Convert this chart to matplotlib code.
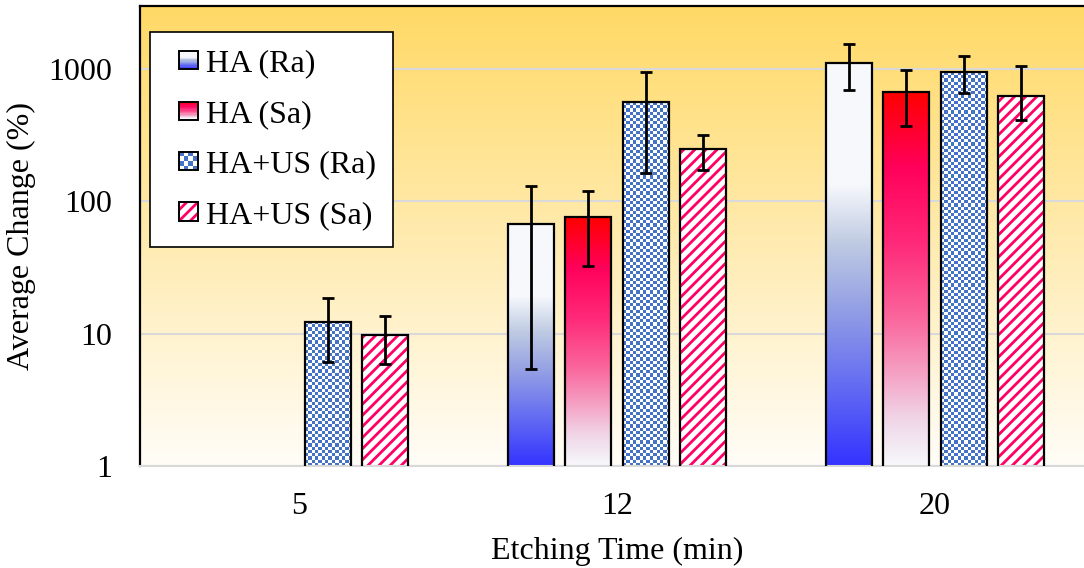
import numpy as np
import matplotlib
import matplotlib.pyplot as plt
from matplotlib.colors import LinearSegmentedColormap, ListedColormap
from matplotlib.patches import Rectangle, Patch
from matplotlib.legend_handler import HandlerBase

plt.rcParams['font.family'] = ['Liberation Serif', 'DejaVu Serif']
plt.rcParams['hatch.linewidth'] = 2.0

# data
times = ['5', '12', '20']
series = ['HA (Ra)', 'HA (Sa)', 'HA+US (Ra)', 'HA+US (Sa)']
ha_ra = [np.nan, 68, 1110]
ha_ra_lo = [np.nan, 5.4, 697]
ha_ra_hi = [np.nan, 130, 1540]
ha_sa = [np.nan, 76, 673]
ha_sa_lo = [np.nan, 32.3, 370]
ha_sa_hi = [np.nan, 120, 978]
us_ra = [12.3, 560, 949]
us_ra_lo = [6.06, 165, 658]
us_ra_hi = [18.5, 955, 1248]
us_sa = [9.8, 248, 624]
us_sa_lo = [5.9, 173, 411]
us_sa_hi = [13.7, 318, 1059]

blue_grad = LinearSegmentedColormap.from_list('bg', [
    (0.0, (246/255, 248/255, 252/255)), (0.3, (246/255, 248/255, 252/255)),
    (0.45, (190/255, 202/255, 226/255)), (0.6, (150/255, 162/255, 228/255)),
    (0.8, (100/255, 108/255, 242/255)), (1.0, (51/255, 51/255, 1.0))])
red_grad = LinearSegmentedColormap.from_list('rg', [
    (0.0, (1.0, 0.0, 0.0)), (0.2, (1.0, 0.0, 90/255)), (0.4, (1.0, 40/255, 120/255)),
    (0.6, (250/255, 100/255, 155/255)), (0.75, (245/255, 160/255, 195/255)),
    (0.88, (240/255, 215/255, 232/255)), (1.0, (246/255, 248/255, 252/255))])
checker_blue = '#4472C4'
stripe_red = '#FF0066'

fig = plt.figure(figsize=(10.84, 5.68), dpi=100)
ax = fig.add_axes([140/1084, 102/568, 954/1084, 460/568])
ax.set_yscale('log')
ax.set_xlim(-0.5, 2.5)
ax.set_ylim(1, 3000)

# background gradient
bg = LinearSegmentedColormap.from_list('bk', ['#FFD966', '#FFFDF8'])
ax.imshow(np.linspace(0, 1, 256).reshape(-1, 1), cmap=bg, extent=[0, 1, 0, 1],
          transform=ax.transAxes, aspect='auto', zorder=0, interpolation='bilinear')

x = np.arange(len(times))
pitch = 0.181
width = 0.145
to_axes = ax.transData + ax.transAxes.inverted()


def bar_extent(b):
    x0, y0 = b.get_x(), max(b.get_y(), 1)
    x1, y1 = x0 + b.get_width(), b.get_y() + b.get_height()
    (ax0, ay0), (ax1, ay1) = to_axes.transform([(x0, y0), (x1, y1)])
    return ax0, ax1, ay0, ay1


def gradient_bars(vals, offset, cmap):
    bars = ax.bar(x + offset, vals, width, bottom=0.0, facecolor='none',
                  edgecolor='black', linewidth=1.6, zorder=3)
    for b in bars:
        if not np.isfinite(b.get_height()):
            continue
        im = ax.imshow(np.linspace(0, 1, 256).reshape(-1, 1), cmap=cmap,
                       extent=bar_extent(b), transform=ax.transAxes,
                       aspect='auto', zorder=2, interpolation='bilinear')
        im.set_clip_path(b)


def checker_bars(vals, offset):
    bars = ax.bar(x + offset, vals, width, facecolor='none',
                  edgecolor='black', linewidth=1.6, zorder=3)
    for b in bars:
        ext = bar_extent(b)
        w_px = (ext[1] - ext[0]) * ax.bbox.width
        h_px = (ext[3] - ext[2]) * ax.bbox.height
        nx, ny = max(int(round(w_px / 3.2)), 1), max(int(round(h_px / 3.2)), 1)
        ii, jj = np.indices((ny, nx))
        im = ax.imshow((ii + jj) % 2, cmap=ListedColormap(['white', checker_blue]),
                       extent=ext, transform=ax.transAxes, aspect='auto',
                       zorder=2, interpolation='nearest')
        im.set_clip_path(b)


def stripe_bars(vals, offset):
    ax.bar(x + offset, vals, width, facecolor='white', edgecolor=stripe_red,
           hatch='///', linewidth=0, zorder=2)
    ax.bar(x + offset, vals, width, facecolor='none', edgecolor='black',
           linewidth=1.6, zorder=3)


offsets = (np.arange(4) - 1.5) * pitch
gradient_bars(ha_ra, offsets[0], blue_grad)
gradient_bars(ha_sa, offsets[1], red_grad)
checker_bars(us_ra, offsets[2])
stripe_bars(us_sa, offsets[3])

for off, v, lo, hi in [(offsets[0], ha_ra, ha_ra_lo, ha_ra_hi),
                       (offsets[1], ha_sa, ha_sa_lo, ha_sa_hi),
                       (offsets[2], us_ra, us_ra_lo, us_ra_hi),
                       (offsets[3], us_sa, us_sa_lo, us_sa_hi)]:
    v, lo, hi = np.array(v), np.array(lo), np.array(hi)
    ax.errorbar(x + off, v, yerr=[v - lo, hi - v], fmt='none', ecolor='black',
                elinewidth=2, capsize=4.5, capthick=2, zorder=4)

ax.set_xlim(-0.5, 2.5)
ax.set_ylim(1, 3000)
ax.set_xticks(x)
ax.set_xticklabels(times)
ax.set_yticks([1, 10, 100, 1000])
ax.set_yticklabels(['1', '10', '100', '1000'])
ax.yaxis.set_minor_locator(matplotlib.ticker.NullLocator())
ax.tick_params(length=0, labelsize=23)
ax.tick_params(axis='y', pad=20)
ax.tick_params(axis='x', pad=19)
ax.grid(axis='y', color='#D9D9D9', linewidth=1.5, zorder=1)
ax.set_axisbelow(True)
for s in ['left', 'top']:
    ax.spines[s].set_color('black')
    ax.spines[s].set_linewidth(1.6)
ax.spines['bottom'].set_color('#D9D9D9')
ax.spines['bottom'].set_linewidth(1.5)
ax.spines['right'].set_visible(False)
ax.set_xlabel('Etching Time (min)', fontsize=23, labelpad=11)
ax.set_ylabel('Average Change (%)', fontsize=23, labelpad=9)


class SwatchHandler(HandlerBase):
    def __init__(self, kind, cmap=None):
        super().__init__()
        self.kind = kind
        self.cmap = cmap

    def create_artists(self, legend, orig_handle, xdescent, ydescent,
                       width, height, fontsize, trans):
        side = height
        x0, y0 = -xdescent + width - side, -ydescent
        arts = []
        if self.kind == 'grad':
            n = 14
            for k in range(n):
                arts.append(Rectangle((x0, y0 + side * (n - 1 - k) / n), side, side / n,
                                      facecolor=self.cmap(k / (n - 1)), edgecolor='none',
                                      transform=trans))
        elif self.kind == 'check':
            n = 4
            for i in range(n):
                for j in range(n):
                    c = checker_blue if (i + j) % 2 else 'white'
                    arts.append(Rectangle((x0 + side * j / n, y0 + side * i / n),
                                          side / n, side / n, facecolor=c,
                                          edgecolor='none', transform=trans))
        else:
            arts.append(Rectangle((x0, y0), side, side, facecolor='white',
                                  edgecolor=stripe_red, hatch='///', linewidth=0,
                                  transform=trans))
        arts.append(Rectangle((x0, y0), side, side, fill=False, edgecolor='black',
                              linewidth=1.4, transform=trans))
        return arts


handles = [Patch() for _ in series]
hmap = {handles[0]: SwatchHandler('grad', blue_grad),
        handles[1]: SwatchHandler('grad', red_grad),
        handles[2]: SwatchHandler('check'),
        handles[3]: SwatchHandler('stripe')}
leg = ax.legend(handles, series, handler_map=hmap, loc='upper left',
                bbox_to_anchor=(10/954, 1 - 26/460), fontsize=23,
                handlelength=0.94, handleheight=0.5, handletextpad=0.25,
                labelspacing=0.67, borderpad=0.55, borderaxespad=0,
                fancybox=False, framealpha=1, edgecolor='black')
leg.get_frame().set_linewidth(1.2)
leg.set_zorder(6)

fig.savefig('out.png', dpi=100)
